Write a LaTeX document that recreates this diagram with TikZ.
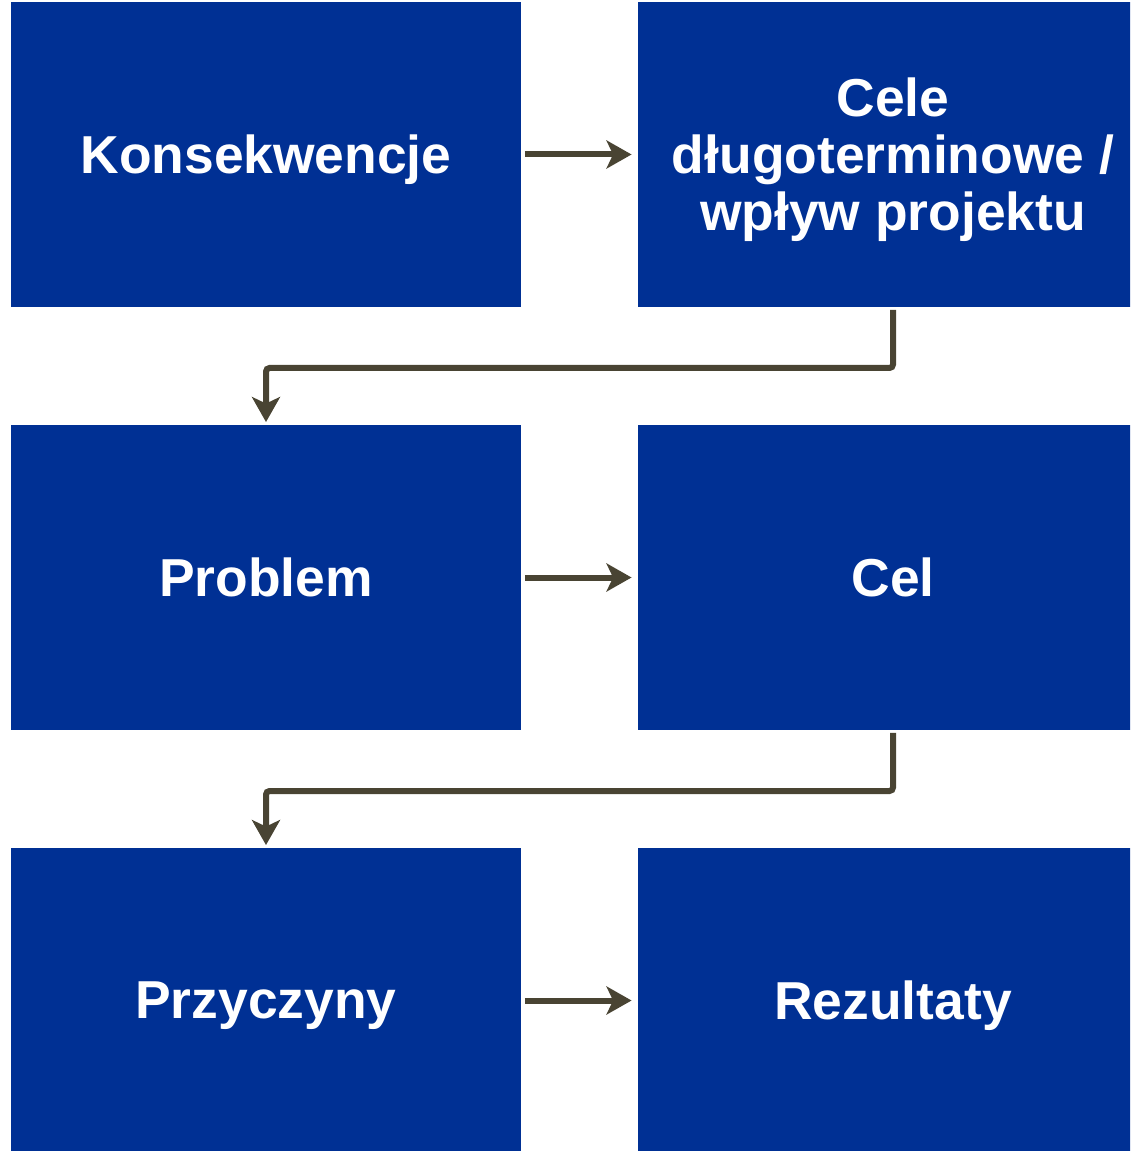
\documentclass[tikz,border=0pt]{standalone}
\usepackage{fontspec}
\setmainfont{Liberation Sans}
\usetikzlibrary{arrows.meta}
\definecolor{boxblue}{HTML}{003094}
\definecolor{arrowgray}{HTML}{494433}
\begin{document}
\begin{tikzpicture}[x=0.02cm,y=-0.02cm,
  >={Stealth[length=0.5cm,width=0.56cm,inset=0.13cm]},
  every node/.style={font=\fontsize{30.4}{32.5}\selectfont\bfseries},
  blok/.style={fill=boxblue,text=white,minimum width=10.2cm,minimum height=6.1cm,align=center,inner sep=0pt,text depth=0pt},
  strz/.style={->,draw=arrowgray,line width=0.12cm,rounded corners=2pt}]
\useasboundingbox (0,0) rectangle (1130,1151);
\clip (0,0) rectangle (1130,1151);
\node[blok] (kons) at (266,154.5) {Konsekwencje};
\node[blok] (cele) at (893,154.5) {Cele\\długoterminowe /\\wpływ projektu};
\node[blok] (prob) at (266,577.5) {Problem};
\node[blok] (cel) at (893,577.5) {Cel};
\node[blok] (przy) at (266,1000.5) {Przyczyny};
\node[blok] (rez) at (893,1000.5) {Rezultaty};
\draw[strz] ([xshift=2pt]kons.east)--([xshift=-3.5pt]cele.west);
\draw[strz] ([xshift=2pt]prob.east)--([xshift=-3.5pt]cel.west);
\draw[strz] ([xshift=2pt]przy.east)--([xshift=-3.5pt]rez.west);
\draw[strz] ([yshift=-1.5pt]cele.south) |- (266,368) -- ([yshift=1.5pt]prob.north);
\draw[strz] ([yshift=-1.5pt]cel.south) |- (266,791) -- ([yshift=1.5pt]przy.north);
\end{tikzpicture}
\end{document}
